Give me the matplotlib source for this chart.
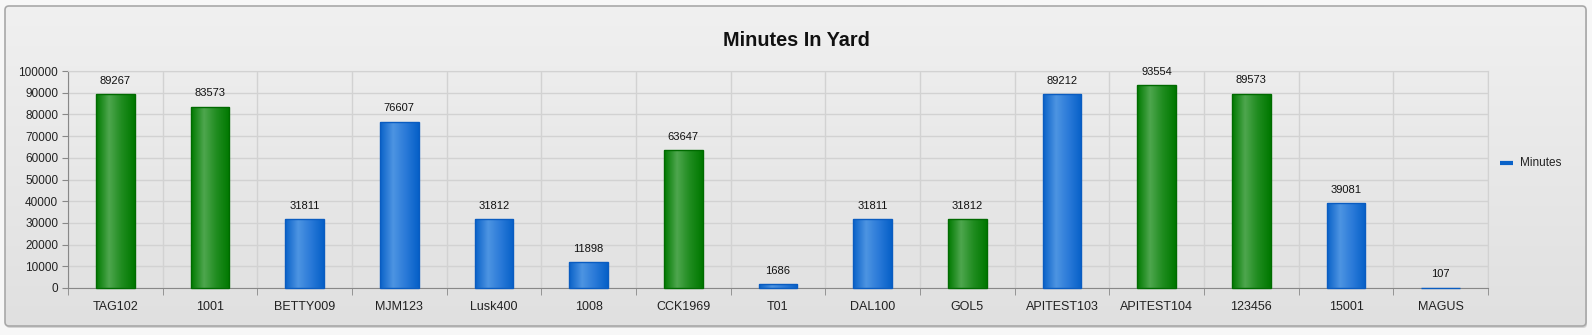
import numpy as np
import matplotlib.pyplot as plt
from matplotlib.patches import FancyBboxPatch
from matplotlib.colors import LinearSegmentedColormap

plt.rcParams["font.family"] = ["Liberation Sans", "DejaVu Sans"]

TAGS = ["TAG102", "1001", "BETTY009", "MJM123", "Lusk400", "1008", "CCK1969", "T01",
        "DAL100", "GOL5", "APITEST103", "APITEST104", "123456", "15001", "MAGUS"]
MINUTES = [89267, 83573, 31811, 76607, 31812, 11898, 63647, 1686,
           31811, 31812, 89212, 93554, 89573, 39081, 107]
KIND = ["g", "g", "b", "b", "b", "b", "g", "b", "b", "g", "b", "g", "g", "b", "b"]

SHADES = {
    "g": ["#007a00", "#4ea64e", "#1f8c1f", "#007800"],
    "b": ["#0a62c8", "#4d94e2", "#2a7ad8", "#0660c8"],
}
EDGE = {"g": "#006a00", "b": "#0a5cc0"}

W, H = 1592, 335
fig = plt.figure(figsize=(W / 100, H / 100), dpi=100)
fig.patch.set_facecolor("#f7f7f7")

# panel background with vertical gradient
bg = fig.add_axes([0, 0, 1, 1], zorder=-5)
bg.set_xlim(0, W)
bg.set_ylim(H, 0)
bg.axis("off")
shadow = FancyBboxPatch((6, 8), 1581, 320, boxstyle="round,pad=0,rounding_size=4",
                        facecolor="#d4d4d4", edgecolor="none", zorder=0)
bg.add_patch(shadow)
panel = FancyBboxPatch((5, 6), 1581, 320, boxstyle="round,pad=0,rounding_size=4",
                       facecolor="none", edgecolor="#a8a8a8", lw=1.2, zorder=3)
grad = np.linspace(0, 1, 256).reshape(-1, 1)
bgcm = LinearSegmentedColormap.from_list("bg", ["#f0f0f0", "#e0e0e0"])
im = bg.imshow(grad, cmap=bgcm, extent=[5, 1586, 326, 6], aspect="auto", zorder=1)
bg.add_patch(panel)
im.set_clip_path(panel)

ax = fig.add_axes([68 / W, 1 - 288 / H, 1420 / W, 217 / H])
ax.patch.set_alpha(0)
x = np.arange(len(TAGS))
bars = ax.bar(x, MINUTES, width=0.41, color="none", zorder=3)
for b, k in zip(bars, KIND):
    b.set_edgecolor(EDGE[k])
    b.set_linewidth(1.0)
    b.set_clip_on(False)
    cm = LinearSegmentedColormap.from_list("c" + k, SHADES[k])
    g = np.linspace(0, 1, 64).reshape(1, -1)
    x0, y0 = b.get_x(), b.get_y()
    img = ax.imshow(g, cmap=cm, extent=[x0, x0 + b.get_width(), y0, y0 + b.get_height()],
                    aspect="auto", zorder=2.5)
    img.set_clip_path(b)
    ax.annotate(str(b.get_height()), (b.get_x() + b.get_width() / 2, b.get_height()),
                xytext=(0, 6), textcoords="offset points", ha="center", va="bottom",
                fontsize=8, color="#111111", zorder=4)

ax.set_xlim(-0.5, len(TAGS) - 0.5)
ax.set_ylim(0, 100000)
ax.set_yticks(np.arange(0, 100001, 10000))
ax.set_xticks(x)
ax.set_xticklabels(TAGS, fontsize=9, color="#222222")
ax.set_xticks(np.arange(-0.5, len(TAGS), 1), minor=True)
ax.tick_params(axis="y", labelsize=8.5, colors="#222222", length=4, color="#888888", pad=3)
ax.tick_params(axis="x", which="major", length=0, pad=9)
ax.tick_params(axis="x", which="minor", length=5, color="#888888")
ax.grid(True, axis="y", color="#d2d2d2", lw=1, zorder=0)
ax.grid(True, axis="x", which="minor", color="#d2d2d2", lw=1, zorder=0)
ax.grid(False, axis="x", which="major")
for s in ["top", "right"]:
    ax.spines[s].set_color("#d2d2d2")
ax.spines["left"].set_color("#888888")
ax.spines["bottom"].set_color("#888888")

fig.text(0.5, 1 - 41 / H, "Minutes In Yard", ha="center", va="center",
         fontsize=14.3, fontweight="bold", color="#111111")

# legend
bg.plot([1500, 1513], [163, 163], color="#0a62c8", lw=3, solid_capstyle="butt", zorder=4)
bg.text(1520, 163, "Minutes", va="center", ha="left", fontsize=8.5, color="#222222", zorder=4)

fig.savefig("out.png", dpi=100, facecolor=fig.get_facecolor())
